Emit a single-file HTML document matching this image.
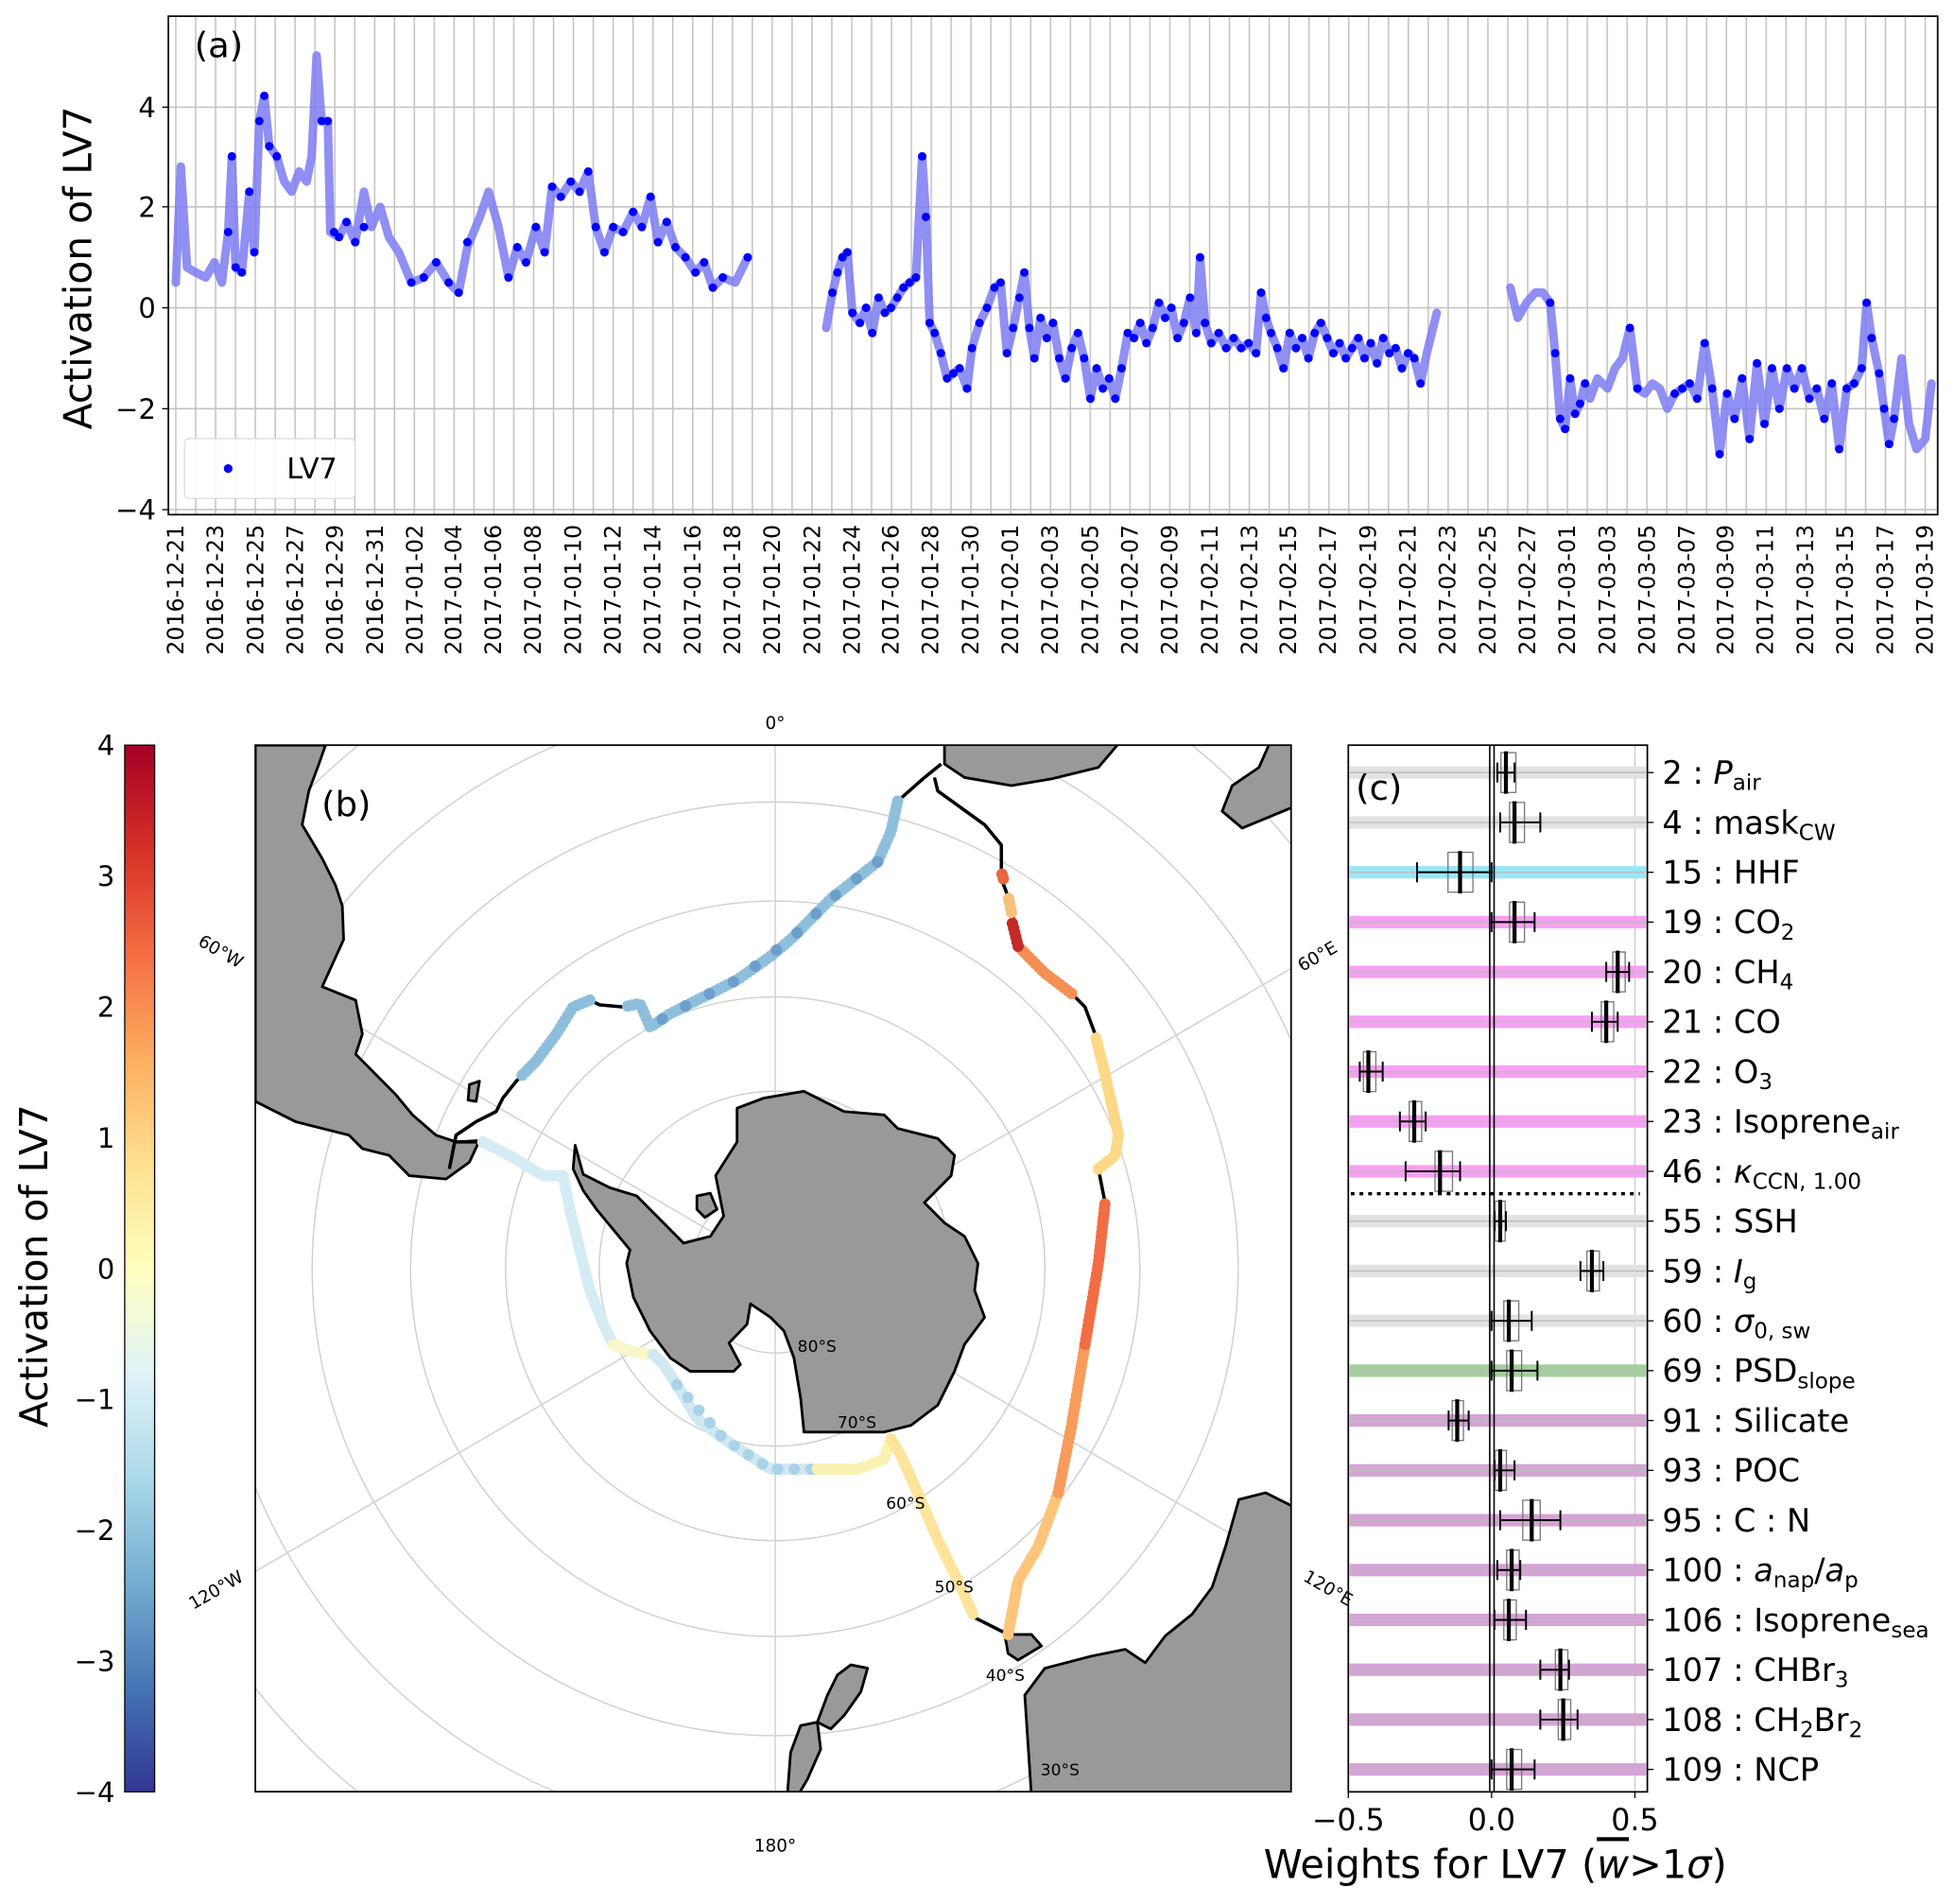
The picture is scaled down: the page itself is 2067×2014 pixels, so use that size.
<!DOCTYPE html>
<html><head><meta charset="utf-8"><style>
html,body{margin:0;padding:0;background:#fff;overflow:hidden;width:2067px;height:2014px}
svg{display:block}
text{font-family:"DejaVu Sans","Liberation Sans",sans-serif;fill:#000}
</style></head><body>
<svg width="2067" height="2014" viewBox="0 0 1568 1528" xmlns="http://www.w3.org/2000/svg">
<defs>
<linearGradient id="cb" x1="0" y1="1" x2="0" y2="0">
<stop offset="0" stop-color="#313695"/><stop offset="0.1" stop-color="#4575b4"/><stop offset="0.2" stop-color="#74add1"/><stop offset="0.3" stop-color="#abd9e9"/><stop offset="0.4" stop-color="#e0f3f8"/><stop offset="0.5" stop-color="#ffffbf"/><stop offset="0.6" stop-color="#fee090"/><stop offset="0.7" stop-color="#fdae61"/><stop offset="0.8" stop-color="#f46d43"/><stop offset="0.9" stop-color="#d73027"/><stop offset="1" stop-color="#a50026"/>
</linearGradient>
<pattern id="vg" x="140.4" y="13" width="15.955" height="400" patternUnits="userSpaceOnUse"><rect x="0" y="0" width="1.2" height="400" fill="#c4c4c4"/></pattern>
<clipPath id="ca"><rect x="135" y="13" width="1420" height="400"/></clipPath>
<clipPath id="cm"><rect x="0" y="12" width="1548" height="1551"/></clipPath>
<marker id="dot" markerUnits="userSpaceOnUse" markerWidth="1" markerHeight="1" overflow="visible"><ellipse cx="0" cy="0" rx="3.4" ry="0.084" fill="#0000ff"/></marker>
</defs>
<!-- Panel a -->
<rect x="135" y="13" width="1420" height="400" fill="url(#vg)"/>
<g stroke="#c4c4c4" stroke-width="1.2"><line x1="135" x2="1555" y1="86" y2="86"/><line x1="135" x2="1555" y1="166" y2="166"/><line x1="135" x2="1555" y1="247" y2="247"/><line x1="135" x2="1555" y1="328" y2="328"/><line x1="135" x2="1555" y1="409" y2="409"/></g>
<g clip-path="url(#ca)">
<g transform="translate(0,247) scale(1,-40.5)" fill="none" stroke-linejoin="round" stroke-linecap="round">
<g stroke="#7b7bf2" stroke-opacity="0.85" stroke-width="9" vector-effect="non-scaling-stroke">
<polyline vector-effect="non-scaling-stroke" points="141,0.5 145,2.8 150,0.8 157,0.7 165,0.6 172,0.9 178,0.5 183,1.5 186,3.0 189,0.8 194,0.7 200,2.3 204,1.1 208,3.7 212,4.2 216,3.2 222,3.0 228,2.5 234,2.3 240,2.7 246,2.5 250,3.0 254,5.0 258,3.7 263,3.7 265,1.5 272,1.4 278,1.7 285,1.3 292,2.3 298,1.6 305,2.0 312,1.4 320,1.1 330,0.5 340,0.6 350,0.9 360,0.5 368,0.3 375,1.2 385,1.8 392,2.3 400,1.6 408,0.6 415,1.2 422,0.9 430,1.6 437,1.1 443,2.4 450,2.2 458,2.5 465,2.3 472,2.7 478,1.6 485,1.1 492,1.6 500,1.5 508,1.9 515,1.6 522,2.2 528,1.3 535,1.7 542,1.2 550,1.0 558,0.7 565,0.9 572,0.4 580,0.6 590,0.5 600,1.0"/>
<polyline vector-effect="non-scaling-stroke" points="663,-0.4 668,0.3 672,0.7 676,1.0 680,1.1 684,-0.1 690,-0.3 695,0.0 700,-0.5 705,0.2 710,-0.1 715,0.0 720,0.2 725,0.4 730,0.5 735,0.6 740,3.0 743,1.8 746,-0.3 750,-0.5 755,-0.9 760,-1.4 765,-1.3 770,-1.2 776,-1.6 780,-0.8 786,-0.3 792,0 798,0.4 803,0.5 808,-0.9 813,-0.4 818,0.2 822,0.7 826,-0.4 830,-1.0 835,-0.2 840,-0.6 845,-0.3 850,-1.0 855,-1.4 860,-0.8 865,-0.5 870,-1.0 875,-1.8 880,-1.2 885,-1.6 890,-1.4 895,-1.8 900,-1.2 905,-0.5 910,-0.6 915,-0.3 920,-0.7 925,-0.4 930,0.1 935,-0.2 940,0 945,-0.6 950,-0.3 955,0.2 960,-0.5 963,1.0 967,-0.3 972,-0.7 978,-0.5 984,-0.8 990,-0.6 996,-0.8 1002,-0.7 1008,-0.9 1012,0.3 1016,-0.2 1020,-0.5 1025,-0.8 1030,-1.2 1035,-0.5 1040,-0.8 1045,-0.6 1050,-1.0 1055,-0.5 1060,-0.3 1065,-0.6 1070,-0.9 1075,-0.7 1080,-1.0 1085,-0.8 1090,-0.6 1095,-1.0 1100,-0.7 1105,-1.1 1110,-0.6 1115,-0.9 1120,-0.8 1125,-1.2 1130,-0.9 1135,-1.0 1140,-1.5 1145,-0.9 1153,-0.1"/>
<polyline vector-effect="non-scaling-stroke" points="1212,0.4 1218,-0.2 1225,0.1 1232,0.3 1238,0.3 1244,0.1 1248,-0.9 1252,-2.2 1256,-2.4 1260,-1.4 1264,-2.1 1268,-1.9 1272,-1.5 1276,-1.8 1282,-1.4 1290,-1.6 1296,-1.2 1302,-1.0 1308,-0.4 1314,-1.6 1320,-1.7 1326,-1.5 1332,-1.6 1338,-2.0 1344,-1.7 1350,-1.6 1356,-1.5 1362,-1.8 1368,-0.7 1374,-1.6 1380,-2.9 1386,-1.7 1392,-2.2 1398,-1.4 1404,-2.6 1410,-1.1 1416,-2.3 1422,-1.2 1428,-2.0 1434,-1.2 1440,-1.6 1446,-1.2 1452,-1.8 1458,-1.6 1464,-2.2 1470,-1.5 1476,-2.8 1482,-1.6 1488,-1.5 1494,-1.2 1498,0.1 1502,-0.6 1508,-1.3 1512,-2.0 1516,-2.7 1520,-2.2 1526,-1.0 1532,-2.3 1538,-2.8 1545,-2.6 1550,-1.5"/>
</g>
<g stroke="none" marker-start="url(#dot)" marker-mid="url(#dot)" marker-end="url(#dot)">
<polyline points="183,1.5 186,3.0 189,0.8 194,0.7 200,2.3 204,1.1 208,3.7 212,4.2 216,3.2 222,3.0"/>
<polyline points="258,3.7 263,3.7 268,1.5 272,1.4 278,1.7 285,1.3 292,1.6 330,0.5 340,0.6 350,0.9 360,0.5 368,0.3 375,1.3 408,0.6 415,1.2 422,0.9 430,1.6 437,1.1 443,2.4 450,2.2 458,2.5 465,2.3 472,2.7 478,1.6 485,1.1 492,1.6 500,1.5 508,1.9 515,1.6 522,2.2 528,1.3 535,1.7 542,1.2 550,1.0 558,0.7 565,0.9 572,0.4 580,0.6 600,1.0"/>
<polyline points="668,0.3 672,0.7 676,1.0 680,1.1 684,-0.1 690,-0.3 695,0.0 700,-0.5 705,0.2 710,-0.1 715,0.0 720,0.2 725,0.4 730,0.5 735,0.6 740,3.0 743,1.8 746,-0.3 750,-0.5 755,-0.9 760,-1.4 765,-1.3 770,-1.2 776,-1.6 780,-0.8 786,-0.3 792,0 798,0.4 803,0.5 808,-0.9 813,-0.4 818,0.2 822,0.7 826,-0.4 830,-1.0 835,-0.2 840,-0.6 845,-0.3 850,-1.0 855,-1.4 860,-0.8 865,-0.5 870,-1.0 875,-1.8 880,-1.2 885,-1.6 890,-1.4 895,-1.8 900,-1.2 905,-0.5 910,-0.6 915,-0.3 920,-0.7 925,-0.4 930,0.1 935,-0.2 940,0 945,-0.6 950,-0.3 955,0.2 960,-0.5 963,1.0 967,-0.3 972,-0.7 978,-0.5 984,-0.8 990,-0.6 996,-0.8 1002,-0.7 1008,-0.9 1012,0.3 1016,-0.2 1020,-0.5 1025,-0.8 1030,-1.2 1035,-0.5 1040,-0.8 1045,-0.6 1050,-1.0 1055,-0.5 1060,-0.3 1065,-0.6 1070,-0.9 1075,-0.7 1080,-1.0 1085,-0.8 1090,-0.6 1095,-1.0 1100,-0.7 1105,-1.1 1110,-0.6 1115,-0.9 1120,-0.8 1125,-1.2 1130,-0.9 1135,-1.0 1140,-1.5"/>
<polyline points="1244,0.1 1248,-0.9 1252,-2.2 1256,-2.4 1260,-1.4 1264,-2.1 1268,-1.9 1272,-1.5 1308,-0.4 1314,-1.6 1344,-1.7 1350,-1.6 1356,-1.5 1362,-1.8 1368,-0.7 1374,-1.6 1380,-2.9 1386,-1.7 1392,-2.2 1398,-1.4 1404,-2.6 1410,-1.1 1416,-2.3 1422,-1.2 1428,-2.0 1434,-1.2 1440,-1.6 1446,-1.2 1452,-1.8 1458,-1.6 1464,-2.2 1470,-1.5 1476,-2.8 1482,-1.6 1488,-1.5 1494,-1.2 1498,0.1 1502,-0.6 1508,-1.3 1512,-2.0 1516,-2.7 1520,-2.2"/>
</g>
</g>
</g>
<rect x="135" y="13" width="1420" height="400" fill="none" stroke="#000" stroke-width="1.3"/>
<text x="156" y="46" font-size="28">(a)</text>
<g font-size="22" text-anchor="end">
<text x="125" y="94">4</text><text x="125" y="174">2</text><text x="125" y="255">0</text><text x="125" y="336">−2</text><text x="125" y="417">−4</text>
</g>
<g stroke="#000"><line x1="130" y1="86" x2="135" y2="86"/><line x1="130" y1="166" x2="135" y2="166"/><line x1="130" y1="247" x2="135" y2="247"/><line x1="130" y1="328" x2="135" y2="328"/><line x1="130" y1="409" x2="135" y2="409"/></g>
<text transform="translate(73,215) rotate(-90)" font-size="31" text-anchor="middle">Activation of LV7</text>
<rect x="148" y="352" width="137" height="48" rx="4" fill="#fff" fill-opacity="0.85" stroke="#ddd"/>
<circle cx="183" cy="376" r="3.5" fill="#0000ff"/>
<text x="230" y="384" font-size="23">LV7</text>
<g font-size="18" text-anchor="end">
<text transform="translate(147,421) rotate(-90)">2016-12-21</text>
<text transform="translate(179,421) rotate(-90)">2016-12-23</text>
<text transform="translate(211,421) rotate(-90)">2016-12-25</text>
<text transform="translate(243,421) rotate(-90)">2016-12-27</text>
<text transform="translate(275,421) rotate(-90)">2016-12-29</text>
<text transform="translate(307,421) rotate(-90)">2016-12-31</text>
<text transform="translate(339,421) rotate(-90)">2017-01-02</text>
<text transform="translate(370,421) rotate(-90)">2017-01-04</text>
<text transform="translate(402,421) rotate(-90)">2017-01-06</text>
<text transform="translate(434,421) rotate(-90)">2017-01-08</text>
<text transform="translate(466,421) rotate(-90)">2017-01-10</text>
<text transform="translate(498,421) rotate(-90)">2017-01-12</text>
<text transform="translate(530,421) rotate(-90)">2017-01-14</text>
<text transform="translate(562,421) rotate(-90)">2017-01-16</text>
<text transform="translate(594,421) rotate(-90)">2017-01-18</text>
<text transform="translate(626,421) rotate(-90)">2017-01-20</text>
<text transform="translate(658,421) rotate(-90)">2017-01-22</text>
<text transform="translate(690,421) rotate(-90)">2017-01-24</text>
<text transform="translate(721,421) rotate(-90)">2017-01-26</text>
<text transform="translate(753,421) rotate(-90)">2017-01-28</text>
<text transform="translate(785,421) rotate(-90)">2017-01-30</text>
<text transform="translate(817,421) rotate(-90)">2017-02-01</text>
<text transform="translate(849,421) rotate(-90)">2017-02-03</text>
<text transform="translate(881,421) rotate(-90)">2017-02-05</text>
<text transform="translate(913,421) rotate(-90)">2017-02-07</text>
<text transform="translate(945,421) rotate(-90)">2017-02-09</text>
<text transform="translate(977,421) rotate(-90)">2017-02-11</text>
<text transform="translate(1009,421) rotate(-90)">2017-02-13</text>
<text transform="translate(1040,421) rotate(-90)">2017-02-15</text>
<text transform="translate(1072,421) rotate(-90)">2017-02-17</text>
<text transform="translate(1104,421) rotate(-90)">2017-02-19</text>
<text transform="translate(1136,421) rotate(-90)">2017-02-21</text>
<text transform="translate(1168,421) rotate(-90)">2017-02-23</text>
<text transform="translate(1200,421) rotate(-90)">2017-02-25</text>
<text transform="translate(1232,421) rotate(-90)">2017-02-27</text>
<text transform="translate(1264,421) rotate(-90)">2017-03-01</text>
<text transform="translate(1296,421) rotate(-90)">2017-03-03</text>
<text transform="translate(1328,421) rotate(-90)">2017-03-05</text>
<text transform="translate(1360,421) rotate(-90)">2017-03-07</text>
<text transform="translate(1391,421) rotate(-90)">2017-03-09</text>
<text transform="translate(1423,421) rotate(-90)">2017-03-11</text>
<text transform="translate(1455,421) rotate(-90)">2017-03-13</text>
<text transform="translate(1487,421) rotate(-90)">2017-03-15</text>
<text transform="translate(1519,421) rotate(-90)">2017-03-17</text>
<text transform="translate(1551,421) rotate(-90)">2017-03-19</text>
</g>
<!-- Panel b colorbar -->
<rect x="100" y="598" width="24" height="840" fill="url(#cb)" stroke="#000" stroke-width="1"/>
<g font-size="22" text-anchor="end">
<text x="92" y="606">4</text><text x="92" y="711">3</text><text x="92" y="816">2</text><text x="92" y="921">1</text><text x="92" y="1026">0</text><text x="92" y="1131">−1</text><text x="92" y="1236">−2</text><text x="92" y="1341">−3</text><text x="92" y="1446">−4</text>
</g>
<text transform="translate(38,1016) rotate(-90)" font-size="31" text-anchor="middle">Activation of LV7</text>
<!-- map -->
<g transform="translate(204.8,591.5) scale(0.537,0.5415)">
<g clip-path="url(#cm)">
<g fill="none" stroke="#cfcfcf" stroke-width="2">
<circle cx="777" cy="788" r="125"/><circle cx="777" cy="788" r="263"/><circle cx="777" cy="788" r="403"/><circle cx="777" cy="788" r="545"/><circle cx="777" cy="788" r="692"/><circle cx="777" cy="788" r="842"/><circle cx="777" cy="788" r="995"/><circle cx="777" cy="788" r="1150"/>
<line x1="777" y1="-100" x2="777" y2="1700"/><line x1="2942" y1="-462" x2="-1388" y2="2038"/><line x1="2942" y1="2038" x2="-1388" y2="-462"/>
</g>
<g fill="#999" stroke="#000" stroke-width="4" stroke-linejoin="round">
<path d="M0,12 L105,12 L95,40 L80,80 L70,130 L100,180 L120,220 L130,250 L132,300 L100,370 L150,390 L160,440 L150,470 L180,500 L210,530 L235,560 L270,590 L300,600 L335,598 L320,630 L285,655 L230,650 L200,620 L160,610 L140,590 L100,580 L60,570 L0,540 Z"/>
<path d="M1030,0 L1030,40 L1060,60 L1130,72 L1190,62 L1260,45 L1290,10 L1290,0 Z"/>
<path d="M1520,0 L1560,0 L1560,100 L1475,135 L1445,110 L1460,72 L1500,45 Z"/>
<path d="M1160,1570 L1150,1420 L1180,1380 L1250,1362 L1300,1352 L1330,1372 L1360,1332 L1400,1300 L1430,1260 L1450,1200 L1470,1130 L1510,1120 L1560,1145 L1560,1570 Z"/>
<path d="M1120,1330 L1160,1330 L1175,1347 L1140,1368 L1125,1358 Z"/>
<path d="M855,1420 L870,1390 L890,1375 L915,1380 L905,1415 L880,1450 L860,1470 L840,1460 Z"/>
<path d="M800,1505 L815,1465 L840,1460 L845,1500 L825,1545 L810,1570 L795,1570 Z"/>
<path d="M720,550 L760,535 L820,525 L850,540 L880,555 L940,560 L960,580 L1020,595 L1045,620 L1040,650 L1000,690 L1030,720 L1060,740 L1080,780 L1075,820 L1090,860 L1060,900 L1045,940 L1020,990 L980,1020 L940,1030 L880,1030 L820,1030 L815,980 L805,920 L790,880 L770,860 L740,840 L735,870 L708,898 L725,930 L715,940 L650,940 L620,920 L590,880 L565,830 L555,780 L560,760 L510,700 L490,672 L475,640 L478,605 L490,648 L530,668 L570,680 L610,720 L640,750 L680,740 L700,710 L688,650 L720,600 Z"/>
<path d="M320,515 L335,510 L330,540 L318,538 Z"/>
<path d="M660,680 L680,676 L690,700 L672,712 L660,700 Z"/>
</g>
<g fill="none" stroke="#000" stroke-width="5" stroke-linejoin="round">
<path d="M1025,40 L1000,60 L960,95 L950,140 L930,185 L860,240 L800,300 L770,325 L720,360 L620,410 L590,430 L575,395 L550,400 L515,397 L500,390 L475,400 L450,440 L420,480 L390,510 L370,535 L360,555 L330,570 L300,590 L290,640"/>
<path d="M300,600 L340,600 L380,620 L430,650 L460,650 L470,700 L490,780 L500,820 L520,870 L535,900 L560,910 L590,915 L610,930 L630,960 L660,1010 L700,1040 L770,1085 L840,1085 L900,1085 L940,1070 L950,1040 L965,1065 L990,1120 L1020,1190 L1050,1250 L1075,1305 L1125,1330 L1140,1250 L1170,1200 L1200,1120 L1220,1020 L1240,900 L1260,780 L1270,690 L1260,640 L1285,620 L1290,590 L1270,500 L1255,440 L1240,400 L1220,380 L1180,350 L1140,310 L1130,250 L1115,210 L1115,160 L1090,130 L1020,80 L1015,60"/>
</g>
<g fill="none" stroke-width="17" stroke-linecap="round" stroke-linejoin="round" stroke-dasharray="0 7">
<path stroke="#8dbfdd" d="M960,95 L950,140 L930,185 L860,240 L800,300 L770,325 L720,360 L620,410 L590,430 L575,395 L550,400 M500,390 L475,400 L450,440 L420,480 L395,505"/>
<path stroke="#6c9fcc" stroke-dasharray="0 40" d="M930,185 L860,240 L800,300 L720,360 L620,410 L590,430"/>
<path stroke="#d4ecf4" d="M340,600 L380,620 L430,650 L460,650 L470,700 L490,780 L500,820 L520,870 L535,900"/>
<path stroke="#f7f7c8" d="M535,900 L560,910 L590,915"/>
<path stroke="#cfe8f2" d="M595,915 L610,930 L630,960 L660,1010 L700,1040 L770,1085 L840,1085"/>
<path stroke="#a9d3e8" stroke-dasharray="0 25" d="M630,960 L700,1040 L770,1085 L860,1085"/>
<path stroke="#fbf1b0" d="M840,1085 L900,1085 L940,1070 L950,1040"/>
<path stroke="#fee49a" d="M950,1040 L965,1065 L990,1120 L1020,1190 L1050,1250 L1075,1305"/>
<path stroke="#fdc47a" d="M1125,1330 L1140,1250 L1170,1200 L1200,1120"/>
<path stroke="#f99b5a" d="M1200,1120 L1220,1020 L1240,900"/>
<path stroke="#f26d44" d="M1240,900 L1260,780 L1270,690"/>
<path stroke="#fdd885" d="M1260,640 L1285,620 L1290,590 L1270,500 L1255,440"/>
<path stroke="#f59055" d="M1220,380 L1180,350 L1140,310"/>
<path stroke="#c42a26" d="M1140,310 L1130,270"/>
<path stroke="#f7c07a" d="M1130,260 L1125,235"/>
<path stroke="#ea6440" d="M1118,210 L1115,200"/>
</g>
</g>
<rect x="0" y="12" width="1548" height="1551" fill="none" stroke="#000" stroke-width="2.5"/>
</g>
<text x="640" y="1085" font-size="13">80°S</text>
<text x="672" y="1146" font-size="13">70°S</text>
<text x="711" y="1211" font-size="13">60°S</text>
<text x="750" y="1278" font-size="13">50°S</text>
<text x="791" y="1349" font-size="13">40°S</text>
<text x="835" y="1425" font-size="13">30°S</text>
<text x="622" y="585" font-size="14" text-anchor="middle">0°</text>
<text x="622" y="1486" font-size="14" text-anchor="middle">180°</text>
<text transform="translate(158,758) rotate(30)" font-size="14">60°W</text>
<text transform="translate(1045,780) rotate(-30)" font-size="14">60°E</text>
<text transform="translate(155,1292) rotate(-30)" font-size="14">120°W</text>
<text transform="translate(1045,1268) rotate(30)" font-size="14">120°E</text>
<text x="258" y="655" font-size="28">(b)</text>
<!-- Panel c -->
<line x1="1312" x2="1312" y1="598" y2="1438" stroke="#cfcfcf" stroke-width="1.2"/>
<g>
<rect x="1083" y="615" width="238" height="10" fill="#e2e2e2"/>
<rect x="1083" y="655" width="238" height="10" fill="#e2e2e2"/>
<rect x="1083" y="695" width="238" height="10" fill="#9ae6f7"/>
<rect x="1083" y="735" width="238" height="10" fill="#f5a0f2"/>
<rect x="1083" y="775" width="238" height="10" fill="#f5a0f2"/>
<rect x="1083" y="815" width="238" height="10" fill="#f5a0f2"/>
<rect x="1083" y="855" width="238" height="10" fill="#f5a0f2"/>
<rect x="1083" y="895" width="238" height="10" fill="#f5a0f2"/>
<rect x="1083" y="935" width="238" height="10" fill="#f5a0f2"/>
<rect x="1083" y="975" width="238" height="10" fill="#e2e2e2"/>
<rect x="1083" y="1015" width="238" height="10" fill="#e2e2e2"/>
<rect x="1083" y="1055" width="238" height="10" fill="#e2e2e2"/>
<rect x="1083" y="1095" width="238" height="10" fill="#a2cf9c"/>
<rect x="1083" y="1135" width="238" height="10" fill="#d4a4d4"/>
<rect x="1083" y="1175" width="238" height="10" fill="#d4a4d4"/>
<rect x="1083" y="1215" width="238" height="10" fill="#d4a4d4"/>
<rect x="1083" y="1255" width="238" height="10" fill="#d4a4d4"/>
<rect x="1083" y="1295" width="238" height="10" fill="#d4a4d4"/>
<rect x="1083" y="1335" width="238" height="10" fill="#d4a4d4"/>
<rect x="1083" y="1375" width="238" height="10" fill="#d4a4d4"/>
<rect x="1083" y="1415" width="238" height="10" fill="#d4a4d4"/>
</g>
<path stroke="#bbb" stroke-width="1" d="M1083,620H1321M1083,660H1321M1083,700H1321M1083,740H1321M1083,780H1321M1083,820H1321M1083,860H1321M1083,900H1321M1083,940H1321M1083,980H1321M1083,1020H1321M1083,1060H1321M1083,1100H1321M1083,1140H1321M1083,1180H1321M1083,1220H1321M1083,1260H1321M1083,1300H1321M1083,1340H1321M1083,1380H1321M1083,1420H1321"/>
<line x1="1195.5" x2="1195.5" y1="598" y2="1438" stroke="#000" stroke-width="1.2"/>
<line x1="1199" x2="1199" y1="598" y2="1438" stroke="#000" stroke-width="1.2"/>
<line x1="1084" x2="1316" y1="958" y2="958" stroke="#000" stroke-width="2.5" stroke-dasharray="3,4"/>
<g fill="none" stroke="#777" stroke-width="1">
<rect x="1204.5" y="604" width="12" height="32"/><rect x="1211.4" y="644" width="12" height="32"/><rect x="1162" y="684" width="20" height="32"/><rect x="1211.4" y="724" width="12" height="32"/><rect x="1294.2" y="764" width="10" height="32"/><rect x="1285" y="804" width="10" height="32"/><rect x="1094.1" y="844" width="10" height="32"/><rect x="1130.9" y="884" width="10" height="32"/><rect x="1151.6" y="924" width="14" height="32"/><rect x="1199.9" y="964" width="8" height="32"/><rect x="1273.5" y="1004" width="10" height="32"/><rect x="1206.8" y="1044" width="12" height="32"/><rect x="1209.1" y="1084" width="12" height="32"/><rect x="1165.4" y="1124" width="9" height="32"/><rect x="1199.9" y="1164" width="9" height="32"/><rect x="1222" y="1204" width="14" height="32"/><rect x="1209.1" y="1244" width="10" height="32"/><rect x="1206.8" y="1284" width="10" height="32"/><rect x="1248.2" y="1324" width="10" height="32"/><rect x="1250.5" y="1364" width="10" height="32"/><rect x="1209.1" y="1404" width="12" height="32"/>
</g>
<path fill="none" stroke="#000" stroke-width="1.5" d="
M1201.6,620H1215.4M1201.6,612V628M1215.4,612V628
M1203.9,660H1236.1M1203.9,652V668M1236.1,652V668
M1137.2,700H1197M1137.2,692V708M1197,692V708
M1197,740H1231.5M1197,732V748M1231.5,732V748
M1289,780H1307.4M1289,772V788M1307.4,772V788
M1277.5,820H1298.2M1277.5,812V828M1298.2,812V828
M1091.2,860H1109.6M1091.2,852V868M1109.6,852V868
M1123.4,900H1144.1M1123.4,892V908M1144.1,892V908
M1128,940H1171.7M1128,932V948M1171.7,932V948
M1199.3,980H1208.5M1199.3,972V988M1208.5,972V988
M1268.3,1020H1286.7M1268.3,1012V1028M1286.7,1012V1028
M1197,1060H1229.2M1197,1052V1068M1229.2,1052V1068
M1197,1100H1233.8M1197,1092V1108M1233.8,1092V1108
M1162.5,1140H1178.6M1162.5,1132V1148M1178.6,1132V1148
M1199.3,1180H1215.4M1199.3,1172V1188M1215.4,1172V1188
M1203.9,1220H1252.2M1203.9,1212V1228M1252.2,1212V1228
M1201.6,1260H1220M1201.6,1252V1268M1220,1252V1268
M1199.3,1300H1224.6M1199.3,1292V1308M1224.6,1292V1308
M1236.1,1340H1259.1M1236.1,1332V1348M1259.1,1332V1348
M1236.1,1380H1266M1236.1,1372V1388M1266,1372V1388
M1197,1420H1231.5M1197,1412V1428M1231.5,1412V1428"/>
<path fill="none" stroke="#000" stroke-width="3.2" d="M1208.5,603V637M1215.4,643V677M1171.7,683V717M1215.4,723V757M1298.2,763V797M1289,803V837M1098.1,843V877M1134.9,883V917M1155.6,923V957M1203.9,963V997M1277.5,1003V1037M1210.8,1043V1077M1213.1,1083V1117M1169.4,1123V1157M1203.9,1163V1197M1229.2,1203V1237M1213.1,1243V1277M1210.8,1283V1317M1252.2,1323V1357M1254.5,1363V1397M1213.1,1403V1437"/>
<rect x="1082" y="598" width="240" height="840" fill="none" stroke="#000" stroke-width="1.3"/>
<text x="1088" y="642" font-size="28">(c)</text>
<g font-size="24" text-anchor="middle">
<text x="1082" y="1469">−0.5</text><text x="1197" y="1469">0.0</text><text x="1312" y="1469">0.5</text>
</g>
<g stroke="#000"><line x1="1082" y1="1438" x2="1082" y2="1443"/><line x1="1197" y1="1438" x2="1197" y2="1443"/><line x1="1312" y1="1438" x2="1312" y2="1443"/></g>
<g stroke="#000"><line x1="1322" y1="620" x2="1327" y2="620"/><line x1="1322" y1="660" x2="1327" y2="660"/><line x1="1322" y1="700" x2="1327" y2="700"/><line x1="1322" y1="740" x2="1327" y2="740"/><line x1="1322" y1="780" x2="1327" y2="780"/><line x1="1322" y1="820" x2="1327" y2="820"/><line x1="1322" y1="860" x2="1327" y2="860"/><line x1="1322" y1="900" x2="1327" y2="900"/><line x1="1322" y1="940" x2="1327" y2="940"/><line x1="1322" y1="980" x2="1327" y2="980"/><line x1="1322" y1="1020" x2="1327" y2="1020"/><line x1="1322" y1="1060" x2="1327" y2="1060"/><line x1="1322" y1="1100" x2="1327" y2="1100"/><line x1="1322" y1="1140" x2="1327" y2="1140"/><line x1="1322" y1="1180" x2="1327" y2="1180"/><line x1="1322" y1="1220" x2="1327" y2="1220"/><line x1="1322" y1="1260" x2="1327" y2="1260"/><line x1="1322" y1="1300" x2="1327" y2="1300"/><line x1="1322" y1="1340" x2="1327" y2="1340"/><line x1="1322" y1="1380" x2="1327" y2="1380"/><line x1="1322" y1="1420" x2="1327" y2="1420"/></g>
<text x="1200" y="1507" font-size="31.5" text-anchor="middle">Weights for LV7 (<tspan font-style="italic" text-decoration="overline">w</tspan>&gt;1<tspan font-style="italic">σ</tspan>)</text>
<g font-size="25.5">
<text x="1334" y="629">2 : <tspan font-style="italic">P</tspan><tspan font-size="17.5" dy="5">air</tspan></text>
<text x="1334" y="669">4 : mask<tspan font-size="17.5" dy="5">CW</tspan></text>
<text x="1334" y="709">15 : HHF</text>
<text x="1334" y="749">19 : CO<tspan font-size="17.5" dy="5">2</tspan></text>
<text x="1334" y="789">20 : CH<tspan font-size="17.5" dy="5">4</tspan></text>
<text x="1334" y="829">21 : CO</text>
<text x="1334" y="869">22 : O<tspan font-size="17.5" dy="5">3</tspan></text>
<text x="1334" y="909">23 : Isoprene<tspan font-size="17.5" dy="5">air</tspan></text>
<text x="1334" y="949">46 : <tspan font-style="italic">κ</tspan><tspan font-size="17.5" dy="5">CCN, 1.00</tspan></text>
<text x="1334" y="989">55 : SSH</text>
<text x="1334" y="1029">59 : <tspan font-style="italic">I</tspan><tspan font-size="17.5" dy="5">g</tspan></text>
<text x="1334" y="1069">60 : <tspan font-style="italic">σ</tspan><tspan font-size="17.5" dy="5">0, sw</tspan></text>
<text x="1334" y="1109">69 : PSD<tspan font-size="17.5" dy="5">slope</tspan></text>
<text x="1334" y="1149">91 : Silicate</text>
<text x="1334" y="1189">93 : POC</text>
<text x="1334" y="1229">95 : C : N</text>
<text x="1334" y="1269">100 : <tspan font-style="italic">a</tspan><tspan font-size="17.5" dy="5">nap</tspan><tspan dy="-5">/</tspan><tspan font-style="italic">a</tspan><tspan font-size="17.5" dy="5">p</tspan></text>
<text x="1334" y="1309">106 : Isoprene<tspan font-size="17.5" dy="5">sea</tspan></text>
<text x="1334" y="1349">107 : CHBr<tspan font-size="17.5" dy="5">3</tspan></text>
<text x="1334" y="1389">108 : CH<tspan font-size="17.5" dy="5">2</tspan><tspan dy="-5">Br</tspan><tspan font-size="17.5" dy="5">2</tspan></text>
<text x="1334" y="1429">109 : NCP</text>
</g>
</svg>
</body></html>
